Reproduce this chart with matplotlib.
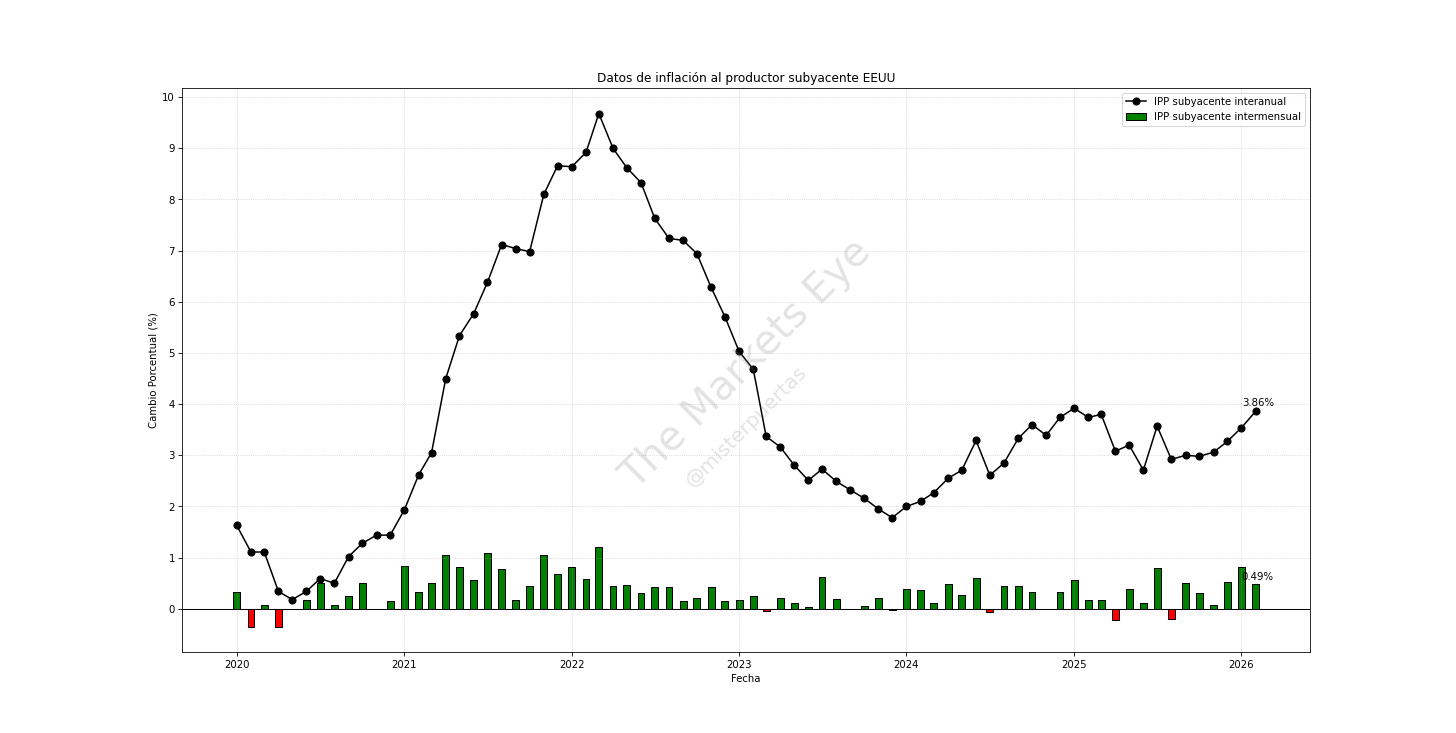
import pandas as pd
import matplotlib
matplotlib.use('Agg')
import matplotlib.pyplot as plt

# monthly data, 2020-01 .. 2026-02
fechas = pd.date_range('2020-01-01', periods=74, freq='MS')

ipp_interanual = [
    1.63, 1.11, 1.11, 0.34, 0.18, 0.34, 0.59, 0.50, 1.02, 1.28, 1.44, 1.44,
    1.94, 2.62, 3.05, 4.50, 5.34, 5.77, 6.38, 7.12, 7.04, 6.98, 8.10, 8.66,
    8.64, 8.92, 9.68, 9.00, 8.62, 8.33, 7.63, 7.24, 7.20, 6.94, 6.28, 5.71,
    5.03, 4.68, 3.37, 3.16, 2.81, 2.51, 2.73, 2.49, 2.32, 2.16, 1.95, 1.78,
    2.00, 2.10, 2.27, 2.55, 2.71, 3.29, 2.61, 2.85, 3.33, 3.60, 3.39, 3.74,
    3.92, 3.74, 3.80, 3.08, 3.20, 2.71, 3.57, 2.92, 3.00, 2.98, 3.06, 3.27,
    3.54, 3.86,
]

ipp_intermensual = [
    0.33, -0.35, 0.08, -0.35, 0.00, 0.17, 0.50, 0.08, 0.25, 0.50, 0.00, 0.16,
    0.83, 0.32, 0.50, 1.06, 0.81, 0.56, 1.09, 0.78, 0.18, 0.44, 1.05, 0.68,
    0.81, 0.59, 1.20, 0.44, 0.46, 0.30, 0.43, 0.42, 0.15, 0.21, 0.43, 0.15,
    0.17, 0.25, -0.05, 0.21, 0.12, 0.03, 0.63, 0.20, -0.01, 0.05, 0.21, -0.03,
    0.38, 0.36, 0.12, 0.49, 0.26, 0.61, -0.07, 0.44, 0.44, 0.32, 0.00, 0.32,
    0.56, 0.18, 0.18, -0.21, 0.38, 0.12, 0.79, -0.19, 0.51, 0.31, 0.07, 0.53,
    0.81, 0.49,
]

colores = ['green' if v >= 0 else 'red' for v in ipp_intermensual]

fig, ax = plt.subplots(figsize=(20, 10.07), dpi=72.8)

ax.plot(fechas, ipp_interanual, color='black', marker='o', markersize=7,
        linewidth=1.5, label='IPP subyacente interanual')
ax.bar(fechas, ipp_intermensual, width=15, color=colores, edgecolor='black',
       label='IPP subyacente intermensual')
ax.axhline(0, color='black', linewidth=1)

# last values
ax.annotate(f'{ipp_interanual[-1]:.2f}%', (fechas[-1], ipp_interanual[-1]),
            xytext=(2, 5), textcoords='offset points', ha='center', fontsize=10)
ax.annotate(f'{ipp_intermensual[-1]:.2f}%', (fechas[-1], ipp_intermensual[-1]),
            xytext=(2, 4), textcoords='offset points', ha='center', fontsize=10)

# watermark
ax.text(0.5, 0.51, 'The Markets Eye', transform=ax.transAxes, fontsize=40,
        color='gray', alpha=0.22, rotation=45, ha='center', va='center')
ax.text(0.5, 0.4, '@misterpuertas', transform=ax.transAxes, fontsize=20,
        color='gray', alpha=0.22, rotation=45, ha='center', va='center')

ax.set_title('Datos de inflación al productor subyacente EEUU')
ax.set_xlabel('Fecha')
ax.set_ylabel('Cambio Porcentual (%)')
ax.set_yticks(range(0, 11))
ax.grid(True, linestyle=':', alpha=0.6)
ax.legend(loc='upper right')

plt.savefig('out.png', dpi=72.8)
